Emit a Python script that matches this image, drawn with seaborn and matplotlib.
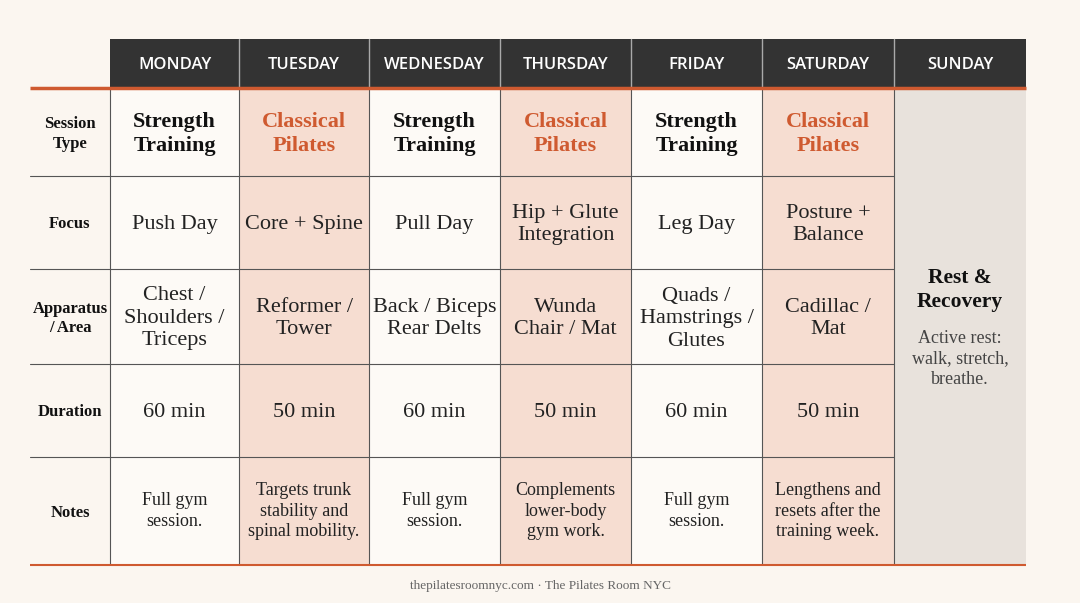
import matplotlib
matplotlib.use("Agg")
import matplotlib.pyplot as plt
import seaborn as sns
from matplotlib.patches import Rectangle

sns.set_style("white")
plt.rcParams['font.family'] = ['Liberation Serif', 'DejaVu Serif']

days = ["MONDAY", "TUESDAY", "WEDNESDAY", "THURSDAY", "FRIDAY", "SATURDAY", "SUNDAY"]
row_labels = ["Session\nType", "Focus", "Apparatus\n/ Area", "Duration", "Notes"]
session_type = ["Strength\nTraining", "Classical\nPilates"] * 3
focus = ["Push Day", "Core + Spine", "Pull Day", "Hip + Glute\nIntegration", "Leg Day", "Posture +\nBalance"]
apparatus = ["Chest /\nShoulders /\nTriceps", "Reformer /\nTower", "Back / Biceps\nRear Delts",
             "Wunda\nChair / Mat", "Quads /\nHamstrings /\nGlutes", "Cadillac /\nMat"]
duration = ["60 min", "50 min", "60 min", "50 min", "60 min", "50 min"]
notes = ["Full gym\nsession.", "Targets trunk\nstability and\nspinal mobility.", "Full gym\nsession.",
         "Complements\nlower-body\ngym work.", "Full gym\nsession.", "Lengthens and\nresets after the\ntraining week."]
sunday_title = "Rest &\nRecovery"
sunday_note = "Active rest:\nwalk, stretch,\nbreathe."
footer = "thepilatesroomnyc.com · The Pilates Room NYC"

BG = "#FBF6F0"
WHITE = "#FDFAF6"
PINK = "#F6DDD1"
SUN = "#E8E2DC"
DARK = "#333333"
ORANGE = "#CF5A30"
LINE = "#555555"

fig = plt.figure(figsize=(10.8, 6.03), dpi=100)
fig.patch.set_facecolor(BG)
ax = fig.add_axes([0, 0, 1, 1])
ax.set_xlim(0, 1080); ax.set_ylim(603, 0); ax.axis("off")

xs = [110, 239, 369, 500, 631, 762, 894, 1026]
ys = [88, 176, 269, 364, 457, 565]
rows = [session_type, focus, apparatus, duration, notes]

# header
for i, d in enumerate(days):
    ax.add_patch(Rectangle((xs[i], 39), xs[i+1]-xs[i], 49, color=DARK, lw=0))
    ax.text((xs[i]+xs[i+1])/2, 65, d, color="white", ha="center", va="center",
            fontsize=12, family=["Open Sans", "DejaVu Sans"], fontweight="semibold")
for x in xs[1:-1]:
    ax.plot([x, x], [39, 88], color="#aaaaaa", lw=1)

# body cells
for i in range(6):
    fc = PINK if i % 2 == 1 else WHITE
    ax.add_patch(Rectangle((xs[i], ys[0]), xs[i+1]-xs[i], ys[-1]-ys[0], color=fc, lw=0))
ax.add_patch(Rectangle((xs[6], ys[0]), xs[7]-xs[6], ys[-1]-ys[0], color=SUN, lw=0))

for r, vals in enumerate(rows):
    cy = (ys[r]+ys[r+1])/2
    ax.text(70, cy + 2, row_labels[r], ha="center", va="center", fontsize=12, fontweight="bold",
            color="#111111", linespacing=1.3)
    for i, v in enumerate(vals):
        cx = (xs[i]+xs[i+1])/2
        if r == 0:
            ax.text(cx, cy + 2, v, ha="center", va="center", fontsize=16, fontweight="bold",
                    color=ORANGE if i % 2 == 1 else "#111111", linespacing=1.3)
        elif r == 4:
            ax.text(cx, cy, v, ha="center", va="center", fontsize=13, color="#222222",
                    linespacing=1.3)
        else:
            ax.text(cx, cy + 2, v, ha="center", va="center", fontsize=16, color="#222222",
                    linespacing=1.25)

sx = (xs[6]+xs[7])/2
ax.text(sx, 290, sunday_title, ha="center", va="center", fontsize=15.5, fontweight="bold",
        color="#111111", linespacing=1.3)
ax.text(sx, 359, sunday_note, ha="center", va="center", fontsize=13, color="#444444",
        linespacing=1.3)

# grid lines
for y in ys[1:-1]:
    ax.plot([30, xs[6]], [y, y], color=LINE, lw=0.8)
for x in xs[:-1]:
    ax.plot([x, x], [ys[0], ys[-1]], color=LINE, lw=0.8)
ax.plot([30, 1026], [88, 88], color=ORANGE, lw=2.5, solid_capstyle="butt")
ax.plot([30, 1026], [565, 565], color=ORANGE, lw=1.5, solid_capstyle="butt")

ax.text(540, 586, footer, ha="center", va="center", fontsize=9.5, color="#666666")

fig.savefig("out.png", dpi=100, facecolor=BG)
